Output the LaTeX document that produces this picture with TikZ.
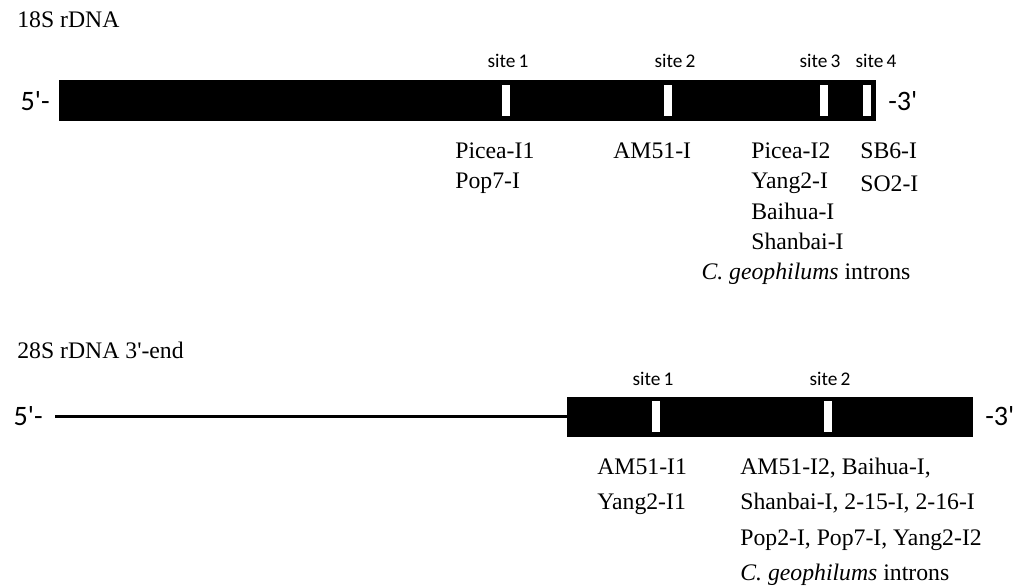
\documentclass[tikz,border=0pt]{standalone}
\usepackage{fontspec}
\setmainfont{Liberation Serif}
\newfontfamily\sitefont{Carlito}
\usetikzlibrary{positioning}

\begin{document}
\begin{tikzpicture}[
    x=1cm, y=1cm,
    font=\fontsize{13.5}{17.6}\selectfont,
    gene/.style={draw=black, fill=black, inner sep=0pt},
    slot/.style={fill=white, inner sep=0pt, minimum width=0.16cm, minimum height=0.62cm},
    sitelab/.style={anchor=base, inner sep=0pt, font=\sitefont\fontsize{11}{13}\selectfont},
    endlab/.style={inner sep=0pt, font=\sitefont\fontsize{16}{18}\selectfont},
    intron/.style={anchor=base west, inner sep=0pt},
    spacer/.style={line width=1.2pt}
]
    % fixed canvas: 1023 x 586 px at 0.02cm per px
    \path[use as bounding box] (0, 0) rectangle (20.46, -11.72);

    % line heights of the intron lists
    \def\ytop{-3.16}
    \def\dtop{0.61}
    \def\ybot{-9.48}
    \def\dbot{0.71}

    % ==========================================
    % 18S rDNA
    % ==========================================
    \node[anchor=base west, inner sep=0pt] (title18) at (0.34, -0.56) {18S rDNA};

    % gene body
    \node[gene, minimum width=16.32cm, minimum height=0.80cm] (bar18) at (9.34, -2.00) {};
    \node[endlab, anchor=base east] (five18) at (1.00, -2.20) {5\textquotesingle-};
    \node[endlab, anchor=base west] (three18) at (17.76, -2.20) {-3\textquotesingle};

    % insertion sites
    \foreach \x [count=\k] in {10.12, 13.35, 16.48, 17.34} {
        \node[slot] (gap18-\k) at (\x, -2.01) {};
    }
    \foreach \x [count=\k] in {10.16, 13.50, 16.40, 17.52} {
        \node[sitelab] (site18-\k) at (\x, -1.34) {site\,\k};
    }

    % introns per site
    \foreach \txt [count=\k] in {Picea-I1, Pop7-I} {
        \node[intron] (int18-1-\k) at (9.10, {\ytop-\dtop*(\k-1)}) {\txt};
    }
    \node[intron] (int18-2-1) at (12.26, \ytop) {AM51-I};
    \foreach \txt [count=\k] in {Picea-I2, Yang2-I, Baihua-I, Shanbai-I} {
        \node[intron] (int18-3-\k) at (15.02, {\ytop-\dtop*(\k-1)}) {\txt};
    }
    \foreach \txt [count=\k] in {SB6-I, SO2-I} {
        \node[intron] (int18-4-\k) at (17.20, {\ytop-(\dtop+0.05)*(\k-1)}) {\txt};
    }
    \node[anchor=base, inner sep=0pt] (note18) at (16.12, -5.58) {\textit{C. geophilums} introns};

    % ==========================================
    % 28S rDNA 3'-end
    % ==========================================
    \node[anchor=base west, inner sep=0pt] (title28) at (0.34, -7.16) {28S rDNA 3\textquotesingle-end};

    % gene body and upstream line
    \node[gene, minimum width=8.10cm, minimum height=0.78cm] (bar28) at (15.39, -8.33) {};
    \coordinate (start28) at (1.10, -8.33);
    \draw[spacer] (start28) -- (bar28.west);
    \node[endlab, anchor=base east] (five28) at (0.86, -8.50) {5\textquotesingle-};
    \node[endlab, anchor=base west] (three28) at (19.70, -8.50) {-3\textquotesingle};

    % insertion sites
    \foreach \x [count=\k] in {13.11, 16.55} {
        \node[slot] (gap28-\k) at (\x, -8.33) {};
    }
    \foreach \x [count=\k] in {13.06, 16.60} {
        \node[sitelab] (site28-\k) at (\x, -7.70) {site\,\k};
    }

    % introns per site
    \foreach \txt [count=\k] in {AM51-I1, Yang2-I1} {
        \node[intron] (int28-1-\k) at (11.94, {\ybot-\dbot*(\k-1)}) {\txt};
    }
    \foreach \txt [count=\k] in {{AM51-I2, Baihua-I,}, {Shanbai-I, 2-15-I, 2-16-I},
                                 {Pop2-I, Pop7-I, Yang2-I2}, {\textit{C. geophilums} introns}} {
        \node[intron] (int28-2-\k) at (14.80, {\ybot-\dbot*(\k-1)}) {\txt};
    }

\end{tikzpicture}
\end{document}
